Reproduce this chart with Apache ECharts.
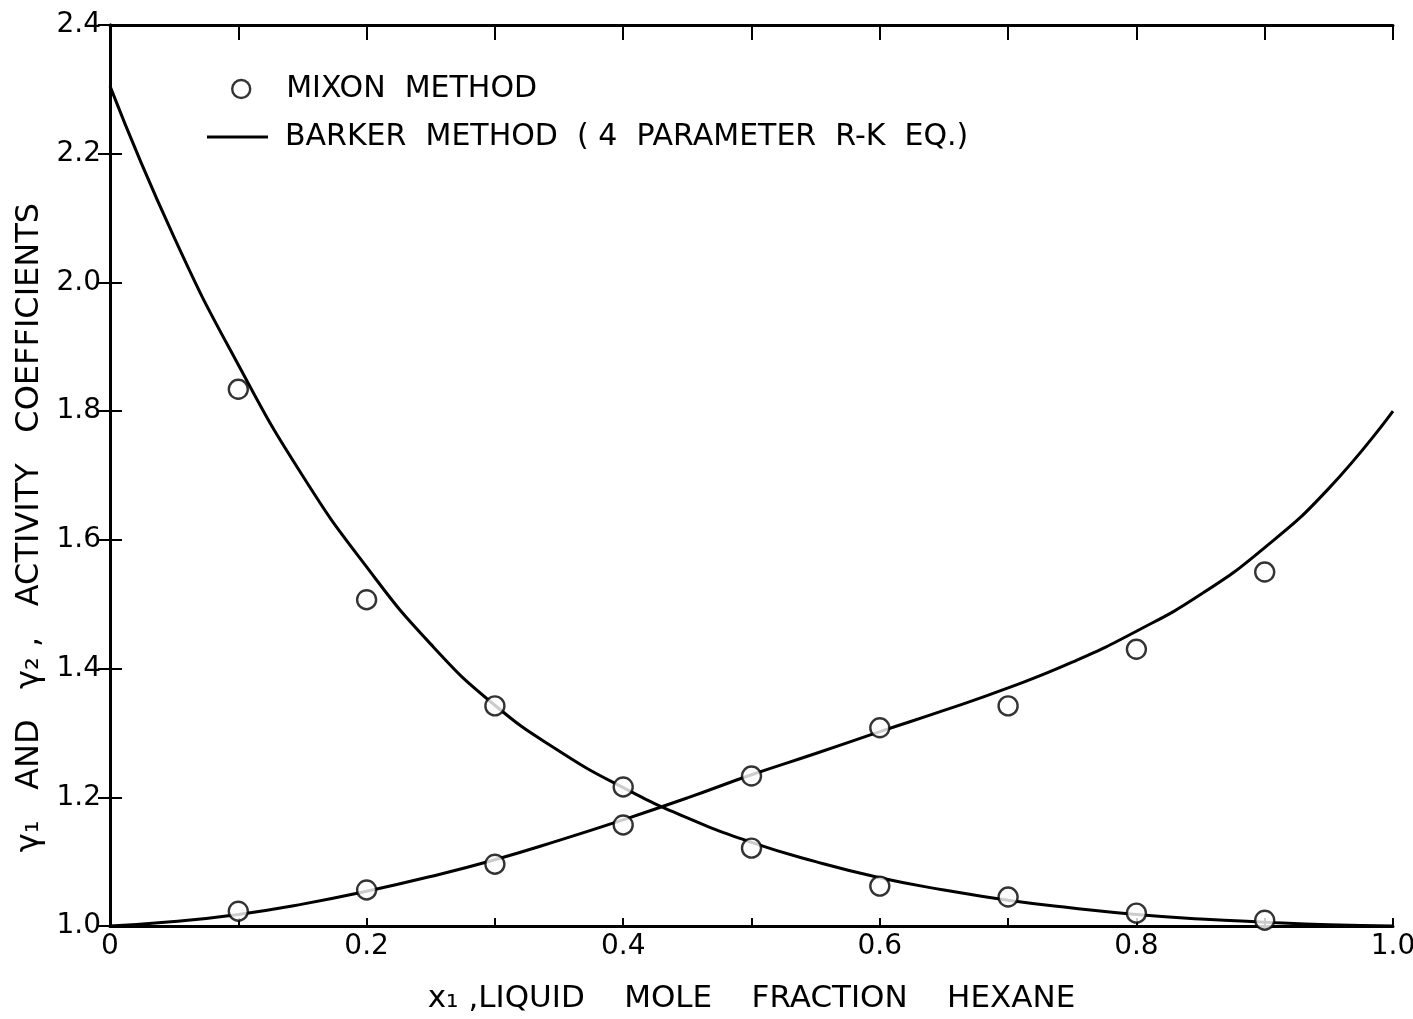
<!DOCTYPE html>
<html>
<head>
<meta charset="utf-8">
<script src="https://cdn.jsdelivr.net/npm/echarts@6/dist/echarts.min.js"></script>
<style>html,body{margin:0;padding:0;background:#fff;}#c{width:1413px;height:1019px;}</style>
</head>
<body>
<div id="c"></div>
<script>
// Mixon method points (circles)
const mixonX = [0.1, 0.2, 0.3, 0.4, 0.5, 0.6, 0.7, 0.8, 0.9];
const mixonGamma1 = [1.834, 1.507, 1.342, 1.216, 1.121, 1.062, 1.045, 1.020, 1.009];
const mixonGamma2 = [1.023, 1.056, 1.096, 1.157, 1.233, 1.308, 1.342, 1.430, 1.550];

// Barker method curves (4 parameter R-K eq.), read every 0.05
const barkerX = [0, 0.05, 0.1, 0.15, 0.2, 0.25, 0.3, 0.35, 0.4, 0.45, 0.5, 0.55, 0.6, 0.65, 0.7, 0.75, 0.8, 0.85, 0.9, 0.95, 1.0];
const barkerGamma1 = [2.305, 2.07, 1.872, 1.70, 1.558, 1.438, 1.343, 1.272, 1.215, 1.168, 1.13, 1.10, 1.075, 1.056, 1.04, 1.028, 1.018, 1.011, 1.006, 1.002, 1.0];
const barkerGamma2 = [1.0, 1.007, 1.018, 1.034, 1.054, 1.077, 1.103, 1.133, 1.165, 1.199, 1.235, 1.268, 1.302, 1.335, 1.370, 1.41, 1.458, 1.515, 1.588, 1.68, 1.80];

const xTickLabels = {0: '0', 0.2: '0.2', 0.4: '0.4', 0.6: '0.6', 0.8: '0.8', 1: '1.0'};
const yTickLabels = ['1.0', '1.2', '1.4', '1.6', '1.8', '2.0', '2.2', '2.4'];

const mixonName = 'MIXON  METHOD';
const barkerName = 'BARKER  METHOD  ( 4  PARAMETER  R-K  EQ.)';
const xName = 'x\u2081 ,LIQUID    MOLE    FRACTION    HEXANE';
const yName = '\u03b3\u2081   AND   \u03b3\u2082 ,   ACTIVITY   COEFFICIENTS';

const FONT = 'DejaVu Sans';
const zip = (xs, ys) => xs.map((x, i) => [x, ys[i]]);

const chart = echarts.init(document.getElementById('c'), null, {renderer: 'canvas'});
const axisLine = {show: true, lineStyle: {color: '#000', width: 3}};

chart.setOption({
  backgroundColor: '#fff',
  animation: false,
  grid: {left: 110, right: 20, top: 25, bottom: 93, containLabel: false, outerBoundsMode: 'none'},
  legend: [
    {
      data: [mixonName], left: 231, top: 74, padding: 0, icon: 'circle',
      itemWidth: 18, itemHeight: 18,
      itemStyle: {color: '#fff', borderColor: '#000', borderWidth: 2.4},
      textStyle: {fontFamily: FONT, fontSize: 30, color: '#000', padding: [0, 0, 0, 31]}
    },
    {
      data: [barkerName], left: 207, top: 122, padding: 0, icon: 'rect',
      itemWidth: 61, itemHeight: 3,
      itemStyle: {color: '#000'},
      textStyle: {fontFamily: FONT, fontSize: 30, color: '#000', padding: [0, 0, 0, 12]}
    }
  ],
  xAxis: [
    {
      type: 'value', min: 0, max: 1, interval: 0.1, position: 'bottom',
      axisLine: axisLine,
      axisTick: {show: true, inside: true, length: 8, lineStyle: {color: '#000', width: 2}},
      axisLabel: {
        fontFamily: FONT, fontSize: 28, color: '#000', margin: 7,
        formatter: v => { const k = Math.round(v * 10) / 10; return xTickLabels[k] !== undefined ? xTickLabels[k] : ''; }
      },
      splitLine: {show: false},
      name: xName,
      nameLocation: 'middle', nameGap: 57,
      nameTextStyle: {fontFamily: FONT, fontSize: 31, color: '#000'}
    },
    {
      type: 'value', min: 0, max: 1, interval: 0.1, position: 'top',
      axisLine: axisLine,
      axisTick: {show: true, inside: true, length: 15, lineStyle: {color: '#000', width: 2}},
      axisLabel: {show: false}, splitLine: {show: false}
    }
  ],
  yAxis: [
    {
      type: 'value', min: 1.0, max: 2.4, interval: 0.2, position: 'left',
      axisLine: axisLine,
      axisTick: {show: true, inside: true, length: 12, lineStyle: {color: '#000', width: 2}},
      axisLabel: {
        fontFamily: FONT, fontSize: 28, color: '#000', margin: 9,
        formatter: v => yTickLabels[Math.round((v - 1.0) / 0.2)]
      },
      splitLine: {show: false},
      name: yName,
      nameLocation: 'middle', nameGap: 60,
      nameTextStyle: {fontFamily: FONT, fontSize: 32, color: '#000', padding: [0, 104, 0, 0]}
    },
    {
      type: 'value', min: 1.0, max: 2.4, interval: 0.2, position: 'right',
      axisLine: axisLine,
      axisTick: {show: true, inside: true, length: 12, lineStyle: {color: '#000', width: 2}},
      axisLabel: {show: false}, splitLine: {show: false}
    }
  ],
  series: [
    {
      name: barkerName, type: 'line', smooth: 0.5, showSymbol: false, symbol: 'none',
      data: zip(barkerX, barkerGamma1), z: 2,
      lineStyle: {color: '#000', width: 3}, itemStyle: {color: '#000'}
    },
    {
      name: barkerName, type: 'line', smooth: 0.5, showSymbol: false, symbol: 'none',
      data: zip(barkerX, barkerGamma2), z: 2,
      lineStyle: {color: '#000', width: 3}, itemStyle: {color: '#000'}
    },
    {
      name: mixonName, type: 'scatter', symbol: 'circle', symbolSize: 19, z: 3,
      data: zip(mixonX, mixonGamma1),
      itemStyle: {color: '#fff', borderColor: '#000', borderWidth: 2.4}
    },
    {
      name: mixonName, type: 'scatter', symbol: 'circle', symbolSize: 19, z: 3,
      data: zip(mixonX, mixonGamma2),
      itemStyle: {color: '#fff', borderColor: '#000', borderWidth: 2.4}
    }
  ]
});
</script>
</body>
</html>
